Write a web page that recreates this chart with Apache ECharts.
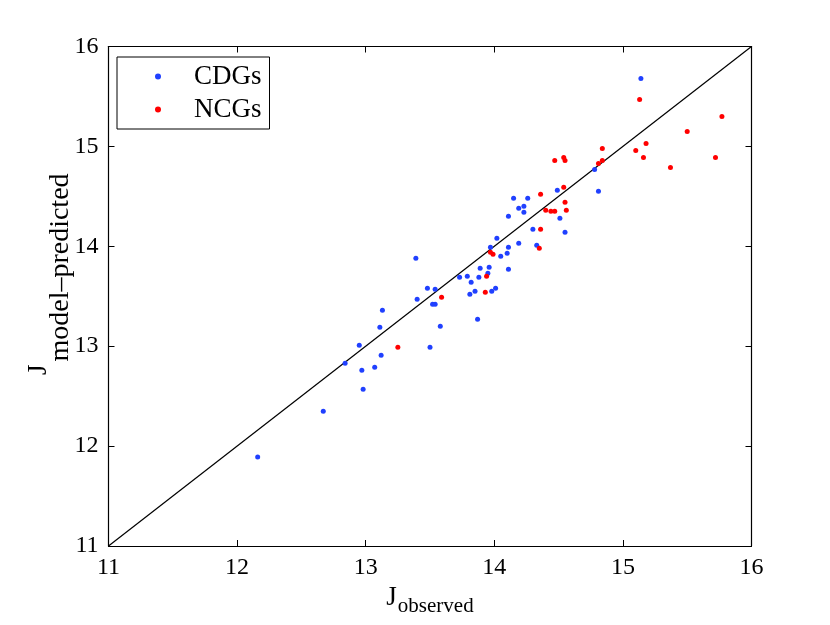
<!DOCTYPE html>
<html>
<head>
<meta charset="utf-8">
<script src="https://cdn.jsdelivr.net/npm/echarts@6/dist/echarts.min.js"></script>
<style>
html, body { margin: 0; padding: 0; background: #fff; }
#main { width: 830px; height: 625px; }
</style>
</head>
<body>
<div id="main"></div>
<script>
// observed vs model-predicted
var cdgObserved = [12.16, 12.67, 12.84, 12.97, 12.98, 12.95, 13.07, 13.12, 13.11, 13.13,
    13.39, 13.40, 13.48, 13.50, 13.52, 13.54, 13.54, 13.58, 13.73, 13.79,
    13.82, 13.81, 13.85, 13.87, 13.88, 13.89, 13.96, 13.95, 13.98, 14.01,
    13.97, 14.02, 14.05, 14.10, 14.11, 14.11, 14.19, 14.15, 14.26, 14.19,
    14.23, 14.23, 14.11, 14.30, 14.33, 14.49, 14.51, 14.55, 14.78, 14.81, 15.14];
var cdgPredicted = [11.89, 12.35, 12.83, 12.76, 12.57, 13.01, 12.79, 12.91, 13.19, 13.36,
    13.88, 13.47, 13.58, 12.99, 13.42, 13.42, 13.57, 13.20, 13.69, 13.70,
    13.64, 13.52, 13.55, 13.27, 13.69, 13.78, 13.79, 13.73, 13.55, 13.58,
    13.99, 14.08, 13.90, 13.93, 13.99, 13.77, 14.03, 14.48, 14.48, 14.38,
    14.40, 14.34, 14.30, 14.17, 14.01, 14.56, 14.28, 14.14, 14.77, 14.55, 15.68];

var ncgObserved = [13.25, 13.59, 13.94, 13.93, 13.97, 13.99, 14.35, 14.36, 14.36, 14.40,
    14.44, 14.47, 14.47, 14.54, 14.55, 14.54, 14.55, 14.56, 14.81, 14.84,
    14.84, 15.10, 15.13, 15.16, 15.18, 15.37, 15.50, 15.72, 15.77];
var ncgPredicted = [12.99, 13.49, 13.70, 13.54, 13.94, 13.92, 13.98, 14.17, 14.52, 14.36,
    14.35, 14.35, 14.86, 14.89, 14.86, 14.59, 14.44, 14.36, 14.83, 14.86,
    14.98, 14.96, 15.47, 14.89, 15.03, 14.79, 15.15, 14.89, 15.30];

var axisMin = 11, axisMax = 16, tickStep = 1;

function pairs(xs, ys) {
    var out = [];
    for (var i = 0; i < xs.length; i++) out.push([xs[i], ys[i]]);
    return out;
}

var serif = 'Liberation Serif';
var chart = echarts.init(document.getElementById('main'));

function valueAxis(pos, showLabel, extra) {
    var a = {
        type: 'value',
        position: pos,
        min: axisMin,
        max: axisMax,
        interval: tickStep,
        splitLine: { show: false },
        axisLine: { show: true, lineStyle: { color: '#000', width: 1.2 } },
        axisTick: { show: true, inside: true, length: 6, lineStyle: { color: '#000' } },
        axisLabel: { show: showLabel, color: '#000', fontFamily: serif, fontSize: 24, margin: 10 }
    };
    for (var k in extra) a[k] = extra[k];
    return a;
}

var option = {
    animation: false,
    backgroundColor: '#fff',
    grid: { left: 108.5, right: 78.5, top: 46.5, bottom: 79, containLabel: false },
    legend: {
        orient: 'vertical',
        left: 117,
        top: 57,
        padding: [6, 8, 6, 38],
        itemGap: 6,
        itemWidth: 6,
        itemHeight: 6,
        borderColor: '#000',
        borderWidth: 1,
        backgroundColor: '#fff',
        textStyle: { fontFamily: serif, fontSize: 27, color: '#000', padding: [0, 0, 0, 28] },
        data: [{ name: 'CDGs', icon: 'circle' }, { name: 'NCGs', icon: 'circle' }]
    },
    xAxis: [
        valueAxis('bottom', true, {
            name: '{j|J}{s|observed}',
            nameLocation: 'middle',
            nameGap: 36,
            nameTextStyle: {
                rich: {
                    j: { fontFamily: serif, fontSize: 27, color: '#000', verticalAlign: 'top' },
                    s: { fontFamily: serif, fontSize: 21, color: '#000', verticalAlign: 'top', padding: [11, 0, 0, 1] }
                }
            }
        }),
        valueAxis('top', false, {})
    ],
    yAxis: [
        valueAxis('left', true, {
            name: '{j|J}{s|model\u2013predicted}',
            nameLocation: 'middle',
            nameGap: 56,
            nameMoveOverlap: false,
            nameRotate: 90,
            nameTextStyle: {
                padding: [0, 0, 0, 44],
                rich: {
                    j: { fontFamily: serif, fontSize: 27, color: '#000', verticalAlign: 'bottom' },
                    s: { fontFamily: serif, fontSize: 28, color: '#000', verticalAlign: 'bottom', padding: [0, 0, -22, 3] }
                }
            }
        }),
        valueAxis('right', false, {})
    ],
    series: [
        {
            name: 'identity',
            type: 'line',
            data: [[axisMin, axisMin], [axisMax, axisMax]],
            symbol: 'none',
            lineStyle: { color: '#000', width: 1.2 },
            silent: true,
            z: 1
        },
        {
            name: 'CDGs',
            type: 'scatter',
            data: pairs(cdgObserved, cdgPredicted),
            symbol: 'circle',
            symbolSize: 5,
            itemStyle: { color: '#2040ff', opacity: 1 },
            z: 3
        },
        {
            name: 'NCGs',
            type: 'scatter',
            data: pairs(ncgObserved, ncgPredicted),
            symbol: 'circle',
            symbolSize: 5,
            itemStyle: { color: '#ff0000', opacity: 1 },
            z: 3
        }
    ]
};
chart.setOption(option);
</script>
</body>
</html>
